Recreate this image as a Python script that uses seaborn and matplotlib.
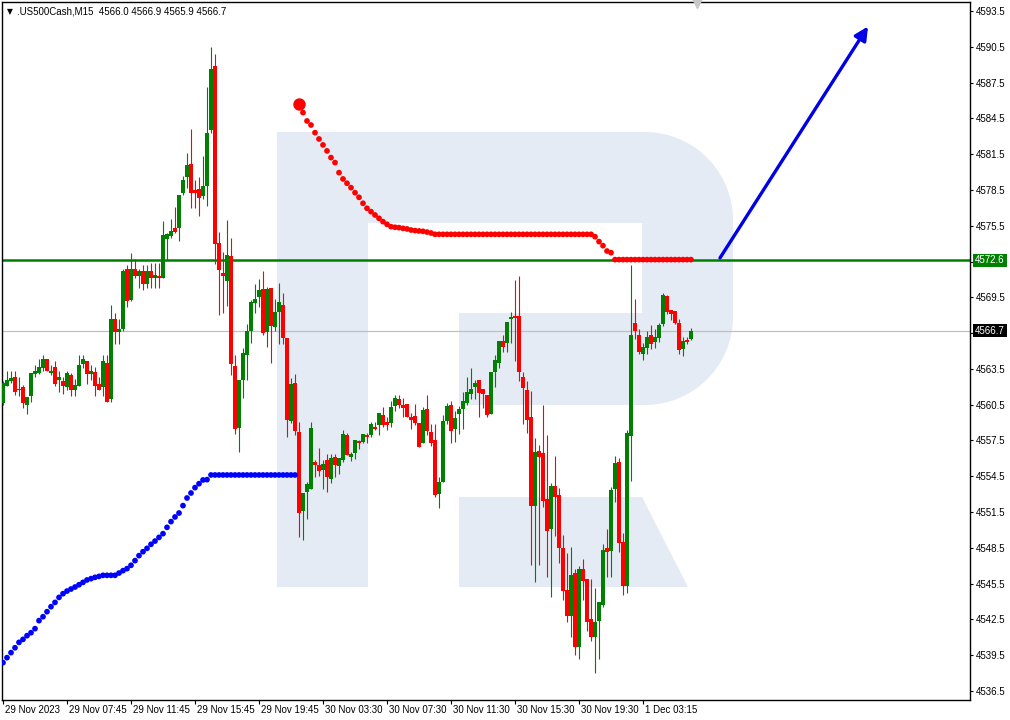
"""
.US500Cash M15 candles with parabolic SAR, MT4-style
"""
import numpy as np
import pandas as pd
import matplotlib
matplotlib.use('Agg')
import matplotlib.pyplot as plt
import matplotlib.transforms as mtransforms
from matplotlib.patches import Polygon
import seaborn as sns

# ---- values (bar 0 = first candle on the left) ----
opens = [
    4560.6, 4562.1, 4562.5, 4562.85, 4561.7, 4562.0, 4560.5, 4561.25, 4563.1, 4563.15,
    4563.6, 4564.3, 4563.15, 4563.65, 4562.6, 4562.5, 4561.95, 4563.0, 4561.7, 4562.1,
    4563.95, 4564.2, 4563.1, 4563.25, 4562.25, 4561.95, 4564.0, 4561.0, 4567.7, 4566.6,
    4566.85, 4571.85, 4569.3, 4571.85, 4571.3, 4571.7, 4570.6, 4571.7, 4571.15, 4571.3,
    4571.15, 4574.35, 4574.65, 4575.35, 4575.3, 4578.25, 4579.55, 4580.65, 4578.5, 4578.6,
    4578.0, 4578.85, 4583.5, 4588.9, 4574.05, 4571.55, 4570.9, 4572.95, 4563.75, 4558.55,
    4562.6, 4564.7, 4566.7, 4569.05, 4569.55, 4570.2, 4566.6, 4570.3, 4567.05, 4568.3,
    4568.85, 4566.1, 4559.15, 4562.3, 4558.2, 4551.55, 4553.2, 4553.45, 4555.7, 4555.45,
    4555.05, 4555.85, 4554.3, 4556.1, 4555.35, 4555.85, 4557.95, 4556.1, 4556.45, 4557.45,
    4557.35, 4557.95, 4557.95, 4558.65, 4558.8, 4559.65, 4559.05, 4558.95, 4560.4, 4561.0,
    4560.45, 4560.55, 4559.45, 4559.55, 4558.95, 4557.3, 4560.15, 4558.25, 4557.55, 4553.05,
    4554.05, 4559.1, 4560.5, 4558.5, 4559.75, 4560.1, 4560.6, 4561.4, 4561.95, 4562.6,
    4561.85, 4561.35, 4559.75, 4563.2, 4564.0, 4565.85, 4565.7, 4567.7, 4567.95, 4567.95,
    4562.8, 4561.75, 4559.45, 4552.05, 4556.6, 4556.45, 4552.6, 4550.05, 4553.7, 4552.9,
    4548.5, 4545.0, 4542.8, 4546.4, 4540.2, 4546.7, 4545.85, 4542.5, 4541.05, 4542.4,
    4543.75, 4548.5, 4548.25, 4553.45, 4555.7, 4549.0, 4545.3, 4557.9, 4567.35, 4566.35,
    4564.75, 4565.25, 4566.35, 4565.75, 4566.1, 4567.25, 4569.6, 4568.45, 4568.35, 4567.35,
    4565.15, 4565.9, 4566.0,
]
highs = [
    4562.5, 4563.3, 4563.3, 4563.3, 4562.85, 4562.15, 4561.15, 4563.15, 4563.8, 4564.35,
    4564.65, 4564.35, 4563.85, 4564.15, 4563.3, 4562.8, 4563.3, 4563.15, 4562.65, 4564.65,
    4564.65, 4564.2, 4563.85, 4563.65, 4562.8, 4564.65, 4564.65, 4568.85, 4568.2, 4567.7,
    4571.9, 4572.2, 4573.2, 4572.7, 4571.85, 4572.2, 4572.2, 4572.4, 4572.4, 4572.4,
    4575.9, 4574.9, 4576.05, 4577.05, 4578.1, 4579.65, 4581.6, 4583.6, 4579.35, 4579.55,
    4581.35, 4587.15, 4590.45, 4589.9, 4574.95, 4573.3, 4575.95, 4574.45, 4564.65, 4562.55,
    4565.25, 4567.25, 4569.3, 4570.6, 4571.05, 4571.7, 4570.35, 4570.3, 4569.35, 4570.7,
    4569.85, 4566.1, 4562.75, 4563.05, 4559.05, 4553.1, 4554.0, 4559.05, 4555.85, 4556.85,
    4555.85, 4556.35, 4556.35, 4556.35, 4556.05, 4558.4, 4558.15, 4556.55, 4557.55, 4557.55,
    4558.05, 4558.15, 4559.05, 4559.05, 4559.8, 4560.3, 4559.45, 4560.8, 4561.3, 4561.3,
    4561.05, 4560.55, 4559.8, 4560.55, 4558.95, 4560.3, 4561.3, 4558.9, 4558.9, 4554.4,
    4559.6, 4560.6, 4560.85, 4560.0, 4560.4, 4561.6, 4562.85, 4563.6, 4562.6, 4562.6,
    4561.85, 4561.35, 4563.25, 4564.7, 4565.85, 4566.3, 4567.45, 4568.25, 4570.95, 4571.3,
    4563.2, 4562.5, 4561.65, 4557.7, 4557.1, 4560.5, 4557.95, 4553.95, 4556.2, 4553.55,
    4549.6, 4548.1, 4548.6, 4546.7, 4546.95, 4547.6, 4545.85, 4545.9, 4545.15, 4544.0,
    4548.85, 4550.1, 4553.6, 4556.2, 4556.05, 4549.75, 4558.4, 4572.2, 4569.35, 4566.85,
    4565.65, 4566.7, 4567.2, 4566.85, 4567.35, 4569.85, 4569.7, 4568.45, 4568.35, 4567.7,
    4566.2, 4566.2, 4566.9,
]
lows = [
    4560.5, 4562.1, 4562.3, 4561.3, 4561.25, 4560.25, 4559.75, 4560.75, 4562.8, 4563.1,
    4563.3, 4563.3, 4563.0, 4562.1, 4561.6, 4561.4, 4561.75, 4561.25, 4561.25, 4562.1,
    4563.6, 4562.25, 4562.6, 4561.25, 4561.75, 4561.25, 4560.75, 4560.75, 4565.6, 4565.6,
    4566.7, 4568.65, 4569.15, 4571.15, 4570.3, 4570.15, 4570.3, 4570.3, 4570.3, 4570.3,
    4571.15, 4572.6, 4574.5, 4574.85, 4574.2, 4578.1, 4578.7, 4577.0, 4577.0, 4576.3,
    4577.7, 4577.15, 4583.25, 4572.3, 4568.0, 4568.15, 4568.8, 4563.0, 4558.05, 4556.55,
    4561.1, 4562.6, 4565.7, 4568.2, 4568.7, 4566.3, 4565.3, 4564.0, 4566.7, 4565.55,
    4565.6, 4557.8, 4559.0, 4558.0, 4549.45, 4549.15, 4550.95, 4553.45, 4554.45, 4554.55,
    4553.45, 4553.2, 4553.95, 4554.4, 4554.65, 4555.7, 4556.3, 4555.8, 4555.95, 4556.8,
    4557.3, 4557.3, 4557.8, 4558.4, 4557.95, 4558.65, 4558.4, 4558.65, 4559.95, 4560.2,
    4559.45, 4559.45, 4558.45, 4558.8, 4556.95, 4557.3, 4558.0, 4557.0, 4552.8, 4551.8,
    4554.05, 4558.9, 4557.3, 4557.4, 4558.05, 4558.5, 4560.5, 4561.0, 4561.0, 4559.5,
    4560.25, 4559.5, 4559.75, 4561.95, 4563.6, 4564.95, 4564.95, 4565.7, 4564.2, 4562.45,
    4558.9, 4558.15, 4547.1, 4545.6, 4547.1, 4551.95, 4546.1, 4544.4, 4549.5, 4547.2,
    4544.1, 4542.3, 4541.0, 4539.55, 4539.15, 4544.15, 4541.55, 4540.7, 4538.05, 4539.2,
    4543.55, 4546.1, 4546.05, 4552.35, 4548.15, 4544.55, 4544.7, 4554.1, 4566.0, 4564.75,
    4564.25, 4564.75, 4565.15, 4565.25, 4565.75, 4567.1, 4568.1, 4567.6, 4567.25, 4564.75,
    4564.6, 4565.6, 4565.9,
]
closes = [
    4562.3, 4562.6, 4562.7, 4561.6, 4561.85, 4560.6, 4561.15, 4563.15, 4563.3, 4563.65,
    4564.35, 4563.3, 4563.3, 4562.25, 4562.8, 4562.1, 4563.15, 4561.75, 4562.15, 4563.85,
    4564.35, 4563.1, 4563.3, 4562.1, 4561.75, 4564.15, 4560.75, 4567.7, 4566.6, 4566.85,
    4571.7, 4569.15, 4571.85, 4571.3, 4571.7, 4570.6, 4571.7, 4571.15, 4571.35, 4571.15,
    4574.7, 4574.8, 4575.05, 4575.0, 4578.1, 4579.35, 4580.6, 4578.25, 4578.25, 4577.8,
    4578.85, 4583.25, 4588.65, 4573.95, 4571.75, 4571.25, 4573.05, 4563.95, 4558.5, 4562.55,
    4564.85, 4566.7, 4569.1, 4569.35, 4570.1, 4566.55, 4570.2, 4567.1, 4568.25, 4569.1,
    4566.1, 4559.25, 4562.25, 4558.3, 4551.45, 4553.1, 4553.85, 4558.55, 4555.45, 4554.95,
    4555.55, 4554.45, 4556.05, 4555.45, 4556.05, 4558.05, 4556.3, 4556.35, 4557.55, 4557.3,
    4558.05, 4557.8, 4558.9, 4558.45, 4559.8, 4558.8, 4558.8, 4560.3, 4561.05, 4560.45,
    4560.2, 4559.45, 4559.2, 4558.95, 4556.95, 4560.05, 4558.3, 4557.3, 4552.95, 4554.05,
    4559.1, 4560.35, 4558.3, 4559.35, 4560.1, 4560.85, 4561.6, 4561.85, 4562.35, 4561.5,
    4561.4, 4559.65, 4563.25, 4564.25, 4565.85, 4565.35, 4567.45, 4567.85, 4567.8, 4563.2,
    4561.9, 4559.25, 4552.05, 4556.55, 4556.15, 4552.45, 4549.95, 4553.7, 4552.8, 4548.45,
    4544.85, 4542.75, 4546.25, 4540.2, 4546.7, 4545.75, 4542.3, 4541.05, 4542.3, 4544.0,
    4548.35, 4548.15, 4553.35, 4555.6, 4548.9, 4545.3, 4558.15, 4566.35, 4566.7, 4564.9,
    4565.35, 4566.2, 4565.6, 4566.2, 4567.2, 4569.7, 4568.25, 4568.1, 4567.35, 4565.1,
    4565.85, 4565.75, 4566.7,
]

# parabolic SAR: blue under price for bars 0..73, red above price for bars 74..172
sar_blue = [
    4538.88, 4539.3, 4539.72, 4540.13, 4540.58, 4540.83, 4541.14, 4541.39, 4541.73, 4542.4,
    4542.73, 4543.15, 4543.57, 4543.93, 4544.35, 4544.66, 4544.88, 4545.05, 4545.22, 4545.41,
    4545.61, 4545.81, 4545.92, 4546.03, 4546.11, 4546.2, 4546.2, 4546.2, 4546.2, 4546.39,
    4546.59, 4546.76, 4547.04, 4547.43, 4547.85, 4548.18, 4548.46, 4548.8, 4549.07, 4549.38,
    4549.69, 4550.22, 4550.7, 4551.09, 4551.42, 4552.04, 4552.68, 4553.1, 4553.55, 4553.88,
    4554.19, 4554.22, 4554.61, 4554.61, 4554.61, 4554.61, 4554.61, 4554.61, 4554.61, 4554.61,
    4554.61, 4554.61, 4554.61, 4554.61, 4554.61, 4554.61, 4554.61, 4554.61, 4554.61, 4554.61,
    4554.61, 4554.61, 4554.61, 4554.61,
]
sar_red = [
    4585.7, 4584.98, 4584.28, 4583.94, 4583.3, 4582.77, 4582.27, 4581.77, 4581.21, 4580.79,
    4579.95, 4579.42, 4579.06, 4578.69, 4578.27, 4577.88, 4577.38, 4576.96, 4576.68, 4576.4,
    4576.12, 4575.84, 4575.62, 4575.42, 4575.37, 4575.34, 4575.28, 4575.23, 4575.14, 4575.09,
    4575.06, 4575.03, 4574.97, 4574.89, 4574.78, 4574.78, 4574.78, 4574.78, 4574.78, 4574.78,
    4574.78, 4574.78, 4574.78, 4574.78, 4574.78, 4574.78, 4574.78, 4574.78, 4574.78, 4574.78,
    4574.78, 4574.78, 4574.78, 4574.78, 4574.78, 4574.78, 4574.78, 4574.78, 4574.78, 4574.78,
    4574.78, 4574.78, 4574.78, 4574.78, 4574.78, 4574.78, 4574.78, 4574.78, 4574.78, 4574.78,
    4574.78, 4574.78, 4574.78, 4574.78, 4574.58, 4574.17, 4573.83, 4573.38, 4573.24, 4572.66,
    4572.66, 4572.66, 4572.66, 4572.66, 4572.66, 4572.66, 4572.66, 4572.66, 4572.66, 4572.66,
    4572.66, 4572.66, 4572.66, 4572.66, 4572.66, 4572.66, 4572.66, 4572.66, 4572.66,
]
sar_flip_bar = 74

price_ticks = [4593.5, 4590.5, 4587.5, 4584.5, 4581.5, 4578.5, 4575.5, 4572.5, 4569.5, 4566.5,
               4563.5, 4560.5, 4557.5, 4554.5, 4551.5, 4548.5, 4545.5, 4542.5, 4539.5, 4536.5]
time_tick_bars = [0, 16, 32, 48, 64, 80, 96, 112, 128, 144, 160]
time_labels = ['29 Nov 2023', '29 Nov 07:45', '29 Nov 11:45', '29 Nov 15:45', '29 Nov 19:45',
               '30 Nov 03:30', '30 Nov 07:30', '30 Nov 11:30', '30 Nov 15:30', '30 Nov 19:30',
               '1 Dec 03:15']

level_price = 4572.6     # green support/resistance line
bid_price = 4566.7       # current bid line
arrow_start = (179.25, 4572.8)
arrow_end = (216.25, 4592.2)
header = '.US500Cash,M15  4566.0 4566.9 4565.9 4566.7'

# ---- theme ----
sns.set_theme(style='white')
plt.rcParams['font.family'] = ['Liberation Sans', 'DejaVu Sans']

GREEN = '#008000'
RED = '#ff0000'
BLUE = '#0000ff'

W, H = 1010, 720
fig = plt.figure(figsize=(W / 100, H / 100), dpi=100)
# plot area in pixels: x 2..970, y 2..700
ax = fig.add_axes([2 / W, 20 / H, 968 / W, 698 / H])
ax.set_facecolor('white')
ax.set_xlim(-0.25, 241.75)
ax.set_ylim(4535.75, 4594.25)

# ---- watermark logo (drawn in pixel space of the plot area) ----
def px(x, y):
    return ((x - 2) / 968, (700 - y) / 698)

r = 88
t1 = np.linspace(-np.pi / 2, 0, 20)
t2 = np.linspace(0, np.pi / 2, 20)
outline = [(277, 132)]
outline += [(645 + r * np.cos(t), 220 + r * np.sin(t)) for t in t1]
outline += [(645 + r * np.cos(t), 317 + r * np.sin(t)) for t in t2]
outline += [(459, 405), (459, 313), (642, 313), (642, 223), (368, 223), (368, 587), (277, 587)]
leg = [(459, 497), (642, 497), (688, 587), (459, 587)]
for shape in (outline, leg):
    ax.add_patch(Polygon([px(x, y) for x, y in shape], closed=True, transform=ax.transAxes,
                         facecolor='#e5ebf4', edgecolor='none', zorder=0))

# ---- horizontal lines ----
ax.axhline(bid_price, color='#c0c0c0', lw=0.9, zorder=1)
ax.axhline(level_price, color=GREEN, lw=1.8, zorder=1)

# ---- candles ----
df = pd.DataFrame({'open': opens, 'high': highs, 'low': lows, 'close': closes})
df['bar'] = np.arange(len(df))
df['up'] = df['close'] >= df['open']
colors = np.where(df['up'], GREEN, RED)
ax.vlines(df['bar'], df['low'], df['high'], colors=colors, lw=0.8, zorder=3)
body_lo = df[['open', 'close']].min(axis=1)
body_h = (df['close'] - df['open']).abs().clip(lower=0.09)
ax.bar(df['bar'], body_h, bottom=body_lo, width=0.78, color=colors, linewidth=0, zorder=4)

# ---- parabolic SAR ----
sar = pd.DataFrame({
    'bar': np.arange(len(sar_blue) + len(sar_red)),
    'sar': sar_blue + sar_red,
    'side': ['buy'] * len(sar_blue) + ['sell'] * len(sar_red),
})
sns.scatterplot(data=sar, x='bar', y='sar', hue='side', palette={'buy': BLUE, 'sell': RED},
                s=17, linewidth=0, legend=False, ax=ax, zorder=5)
sns.scatterplot(x=[sar_flip_bar], y=[sar_red[0]], color=RED, s=80, linewidth=0,
                legend=False, ax=ax, zorder=6)

# ---- forecast arrow ----
ax.annotate('', xy=arrow_end, xytext=arrow_start,
            arrowprops=dict(arrowstyle='-|>', color='#0000e6', lw=2.4, mutation_scale=20,
                            shrinkA=0, shrinkB=0), zorder=7)

# ---- axes styling ----
for s in ax.spines.values():
    s.set_visible(True)
    s.set_color('black')
    s.set_linewidth(1.0)
ax.set_xlabel('')
ax.set_ylabel('')
ax.yaxis.tick_right()
ax.set_yticks(price_ticks)
# the price tags cover the grid labels next to them, as in the terminal
ylabels = ['' if min(abs(v - level_price), abs(v - bid_price)) < 0.5 else f'{v:.1f}'
           for v in price_ticks]
ax.set_yticklabels(ylabels)
ax.tick_params(axis='y', which='both', right=True, left=False, labelright=True, labelleft=False,
               length=2.5, width=0.8, pad=1.5, labelsize=7, colors='black')
ax.set_xticks(time_tick_bars)
ax.set_xticklabels(time_labels)
ax.tick_params(axis='x', bottom=True, top=False, length=3, width=0.8, pad=0.5,
               labelsize=7, colors='black')
shift = mtransforms.ScaledTranslation(2 / 100, 0, fig.dpi_scale_trans)
for lab in ax.get_xticklabels():
    lab.set_ha('left')
    lab.set_transform(lab.get_transform() + shift)
ax.grid(False)

# price tags on the right axis
tag_trans = mtransforms.blended_transform_factory(ax.transAxes, ax.transData)
ax.text(1.0053, level_price, f'{level_price:.1f}', transform=tag_trans, ha='left', va='center',
        fontsize=7, color='white', zorder=10, clip_on=False,
        bbox=dict(boxstyle='square,pad=0.18', fc=GREEN, ec='none'))
ax.text(1.0053, bid_price, f'{bid_price:.1f}', transform=tag_trans, ha='left', va='center',
        fontsize=7, color='white', zorder=10, clip_on=False,
        bbox=dict(boxstyle='square,pad=0.18', fc='black', ec='none'))

# header + chart shift marker
ax.text(5 / 968, 1 - 10 / 698, '\u25bc', transform=ax.transAxes, fontsize=5.5, ha='left',
        va='center', color='black', family=['DejaVu Sans'])
ax.text(15 / 968, 1 - 10 / 698, header, transform=ax.transAxes, fontsize=7, ha='left',
        va='center', color='black')
ax.plot([173.5], [1.0], marker='v', markersize=8, color='#c8c8c8', clip_on=False,
        transform=mtransforms.blended_transform_factory(ax.transData, ax.transAxes), zorder=8)

fig.savefig('out.png', dpi=100)
print('saved out.png', len(opens), len(highs), len(lows), len(closes), len(sar))
